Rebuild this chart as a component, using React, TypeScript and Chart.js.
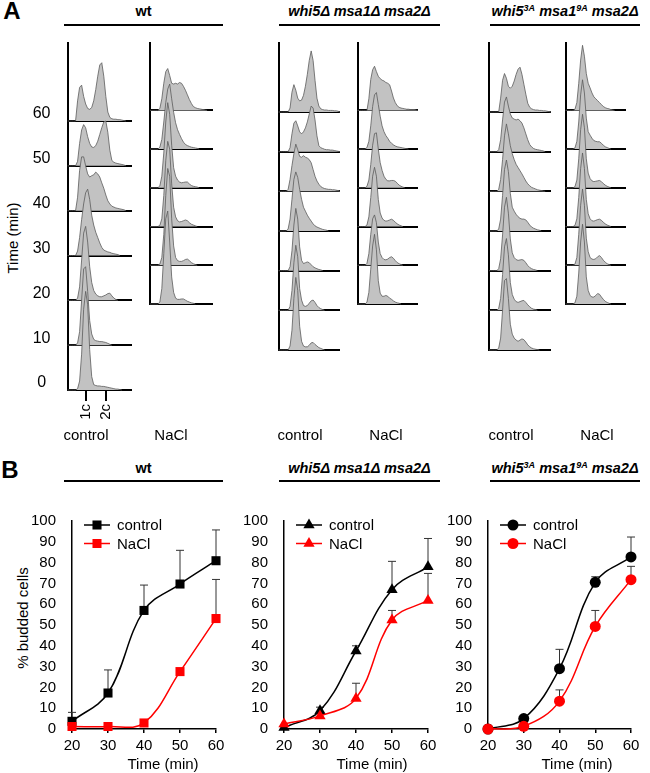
import React, { useEffect, useRef } from 'react';
import { Chart, registerables } from 'chart.js';

Chart.register(...registerables);

const FONT = "'Liberation Sans', Arial, Helvetica, sans-serif";
Chart.defaults.font.family = FONT;
Chart.defaults.color = '#000';

// ---------- Panel A: DNA content histograms (heights in row units, channel 0..32) ----------
const TIME_LABELS = ['0', '10', '20', '30', '40', '50', '60'];
const DNA_TICK_LABELS = ['1c', '2c'];
const DNA_TICK_CHANNELS = [9.25, 18.95];

const WT_CONTROL_0 = [0,0,0,0,0,0.03,0.2,0.8,1.8,2.2,1.9,0.9,0.3,0.12,0.1,0.09,0.09,0.08,0.08,0.07,0.06,0.05,0.04,0.03,0.02,0.02,0.01,0];
const WT_CONTROL_10 = [0,0,0,0,0,0.05,0.3,1.0,1.7,1.75,1.2,0.55,0.25,0.13,0.1,0.09,0.08,0.08,0.07,0.06,0.04,0.02,0];
const WT_CONTROL_20 = [0,0,0,0,0,0.05,0.3,0.9,1.5,1.65,1.3,0.75,0.4,0.22,0.14,0.1,0.08,0.08,0.1,0.12,0.15,0.16,0.1,0.05,0.02,0];
const WT_CONTROL_30 = [0,0,0,0,0,0.1,0.4,0.8,1.15,1.4,1.48,1.25,0.9,0.68,0.52,0.4,0.28,0.18,0.12,0.1,0.08,0.07,0.05,0.04,0.03,0.02,0];
const WT_CONTROL_40 = [0,0,0,0,0,0.3,0.9,1.2,1.2,1.0,0.82,0.75,0.78,0.8,0.86,0.82,0.75,0.62,0.5,0.35,0.22,0.15,0.1,0.08,0.06,0.05,0.04,0.03,0.02,0];
const WT_CONTROL_50 = [0,0,0,0,0,0.1,0.5,0.8,0.92,0.85,0.65,0.5,0.42,0.41,0.45,0.55,0.7,0.85,0.98,1.0,0.75,0.35,0.12,0.08,0.06,0.05,0.04,0.03,0.02,0];
const WT_CONTROL_60 = [0,0,0,0,0,0.45,0.75,0.8,0.55,0.38,0.28,0.26,0.3,0.45,0.7,1.0,1.25,1.3,1.0,0.55,0.2,0.08,0.05,0.04,0.04,0.03,0.03,0.02,0.01,0];

const WT_NACL_10 = [0,0,0,0,0,0.05,0.4,1.3,2.2,2.4,1.6,0.7,0.3,0.15,0.12,0.12,0.13,0.13,0.1,0.07,0.05,0.03,0.02,0];
const WT_NACL_20 = [0,0,0,0,0,0.03,0.2,0.8,1.8,2.5,2.3,1.2,0.5,0.2,0.12,0.1,0.1,0.12,0.15,0.16,0.12,0.07,0.04,0.02,0];
const WT_NACL_30 = [0,0,0,0,0,0.03,0.2,0.8,1.7,2.2,2.0,1.1,0.5,0.25,0.15,0.12,0.13,0.15,0.17,0.15,0.1,0.06,0.04,0.02,0];
const WT_NACL_40 = [0,0,0,0,0,0.05,0.3,0.9,1.7,2.2,1.9,1.1,0.52,0.3,0.2,0.15,0.13,0.14,0.15,0.15,0.1,0.06,0.04,0.03,0.02,0];
const WT_NACL_50 = [0,0,0,0,0,0.05,0.25,0.7,1.2,1.55,1.68,1.3,0.95,0.68,0.5,0.38,0.27,0.18,0.12,0.09,0.07,0.05,0.04,0.03,0.02,0];
const WT_NACL_60 = [0,0,0,0,0,0.05,0.3,0.7,1.0,1.08,0.9,0.7,0.68,0.7,0.68,0.72,0.7,0.62,0.52,0.4,0.28,0.18,0.1,0.07,0.05,0.04,0.03,0.02,0.01,0];

const TRIPLE_CONTROL_0 = [0,0,0,0,0,0,0.1,0.5,1.3,1.83,1.5,0.6,0.22,0.1,0.08,0.08,0.12,0.18,0.19,0.14,0.1,0.06,0.04,0.02,0];
const TRIPLE_CONTROL_10 = [0,0,0,0,0,0,0.1,0.5,1.2,1.64,1.35,0.55,0.26,0.12,0.1,0.12,0.18,0.24,0.26,0.2,0.12,0.07,0.04,0.02,0];
const TRIPLE_CONTROL_20 = [0,0,0,0,0,0,0.1,0.5,1.15,1.57,1.3,0.6,0.26,0.18,0.2,0.22,0.2,0.15,0.1,0.07,0.05,0.03,0.02,0];
const TRIPLE_CONTROL_30 = [0,0,0,0,0,0.05,0.3,0.8,1.3,1.49,1.35,1.05,0.8,0.6,0.5,0.4,0.32,0.25,0.18,0.13,0.1,0.08,0.06,0.04,0.03,0.02,0];
const TRIPLE_CONTROL_40 = [0,0,0,0,0,0.05,0.3,0.65,0.95,1.19,1.05,0.88,0.86,0.9,0.86,0.84,0.8,0.72,0.55,0.38,0.26,0.18,0.12,0.09,0.07,0.06,0.05,0.05,0.04,0.04,0.03,0.02,0];
const TRIPLE_CONTROL_50 = [0,0,0,0,0,0,0.1,0.45,0.72,0.78,0.65,0.5,0.45,0.5,0.6,0.75,0.95,1.15,1.1,0.8,0.4,0.15,0.1,0.08,0.06,0.05,0.05,0.04,0.04,0.03,0.02,0.01,0];
const TRIPLE_CONTROL_60 = [0,0,0,0,0,0,0.1,0.5,0.69,0.55,0.35,0.28,0.3,0.42,0.65,0.95,1.3,1.54,1.3,0.8,0.35,0.15,0.08,0.06,0.05,0.05,0.04,0.04,0.04,0.03,0.03,0.02,0];

const TRIPLE_NACL_10 = [0,0,0,0,0,0.05,0.3,0.9,1.5,1.8,1.4,0.6,0.28,0.2,0.2,0.22,0.2,0.15,0.12,0.08,0.05,0.03,0.02,0];
const TRIPLE_NACL_20 = [0,0,0,0,0,0.05,0.3,0.8,1.2,1.3,1.1,0.6,0.3,0.2,0.15,0.14,0.16,0.2,0.22,0.18,0.12,0.07,0.04,0.02,0];
const TRIPLE_NACL_30 = [0,0,0,0,0,0.04,0.25,0.75,1.3,1.53,1.3,0.7,0.35,0.22,0.16,0.14,0.15,0.17,0.19,0.16,0.11,0.07,0.04,0.02,0];
const TRIPLE_NACL_40 = [0,0,0,0,0,0.04,0.2,0.6,1.1,1.4,1.42,1.0,0.65,0.45,0.3,0.22,0.18,0.18,0.19,0.19,0.17,0.12,0.07,0.04,0.02,0];
const TRIPLE_NACL_50 = [0,0,0,0,0,0.04,0.2,0.6,1.1,1.4,1.46,1.15,0.85,0.6,0.45,0.35,0.28,0.2,0.15,0.11,0.08,0.06,0.05,0.04,0.03,0.02,0.01,0];
const TRIPLE_NACL_60 = [0,0,0,0,0,0,0.3,0.8,1.05,1.14,1.0,0.88,0.82,0.78,0.76,0.72,0.7,0.66,0.5,0.32,0.2,0.12,0.08,0.06,0.05,0.04,0.03,0.03,0.02,0.02,0.02,0.01,0];

const PHOSPHO_CONTROL_0 = [0,0,0,0,0,0.05,0.3,1.0,1.75,1.8,1.3,0.65,0.4,0.3,0.25,0.22,0.25,0.28,0.26,0.2,0.13,0.08,0.05,0.03,0.02,0.01,0];
const PHOSPHO_CONTROL_10 = [0,0,0,0,0,0.05,0.3,0.9,1.6,1.81,1.4,0.7,0.4,0.28,0.22,0.2,0.22,0.24,0.25,0.2,0.14,0.09,0.05,0.03,0.02,0];
const PHOSPHO_CONTROL_20 = [0,0,0,0,0,0.05,0.3,0.9,1.6,1.85,1.45,0.8,0.45,0.33,0.28,0.26,0.27,0.28,0.26,0.2,0.13,0.08,0.05,0.03,0.02,0];
const PHOSPHO_CONTROL_30 = [0,0,0,0,0,0.05,0.3,0.9,1.55,1.79,1.5,0.95,0.6,0.5,0.42,0.36,0.32,0.3,0.3,0.28,0.22,0.15,0.1,0.07,0.05,0.03,0.02,0];
const PHOSPHO_CONTROL_40 = [0,0,0,0,0,0.05,0.3,0.8,1.4,1.7,1.45,1.15,0.95,0.8,0.68,0.6,0.52,0.44,0.35,0.26,0.19,0.14,0.1,0.08,0.06,0.04,0.03,0.02,0.01,0];
const PHOSPHO_CONTROL_50 = [0,0,0,0,0,0.05,0.3,0.8,1.25,1.38,1.15,0.95,0.85,0.82,0.8,0.82,0.78,0.72,0.6,0.45,0.3,0.18,0.12,0.08,0.06,0.05,0.04,0.03,0.02,0];
const PHOSPHO_CONTROL_60 = [0,0,0,0,0,0,0.35,0.8,0.97,0.85,0.65,0.6,0.65,0.78,0.95,1.08,1.13,0.95,0.7,0.45,0.22,0.12,0.08,0.06,0.05,0.05,0.04,0.04,0.03,0.03,0.02,0.01,0];

const PHOSPHO_NACL_10 = [0,0,0,0,0,0.03,0.2,0.8,1.6,2.06,1.6,0.7,0.35,0.22,0.18,0.18,0.22,0.27,0.25,0.18,0.12,0.07,0.04,0.02,0];
const PHOSPHO_NACL_20 = [0,0,0,0,0,0.03,0.2,0.8,1.55,1.97,1.55,0.7,0.35,0.2,0.16,0.15,0.17,0.22,0.25,0.2,0.13,0.08,0.04,0.02,0];
const PHOSPHO_NACL_30 = [0,0,0,0,0,0.03,0.2,0.75,1.5,1.9,1.5,0.7,0.33,0.2,0.15,0.14,0.16,0.18,0.19,0.16,0.11,0.07,0.04,0.02,0];
const PHOSPHO_NACL_40 = [0,0,0,0,0,0.03,0.2,0.75,1.5,1.9,1.55,0.75,0.38,0.24,0.18,0.16,0.17,0.18,0.19,0.16,0.11,0.07,0.04,0.02,0];
const PHOSPHO_NACL_50 = [0,0,0,0,0,0.03,0.2,0.7,1.4,1.79,1.45,0.8,0.45,0.36,0.28,0.22,0.2,0.19,0.19,0.15,0.1,0.06,0.04,0.02,0];
const PHOSPHO_NACL_60 = [0,0,0,0,0,0.03,0.2,0.7,1.3,1.68,1.4,0.95,0.7,0.58,0.45,0.35,0.3,0.25,0.2,0.15,0.1,0.07,0.05,0.04,0.02,0.01,0];

// ---------- Panel B: % budded cells ----------
const TIMES = [20, 30, 40, 50, 60];
const WT_CONTROL_BUDDED = [3.7, 17.3, 57, 69.7, 80.9];
const WT_CONTROL_SD = [4.3, 11.1, 12.2, 16.2, 14.8];
const WT_NACL_BUDDED = [1.2, 1.2, 2.9, 27.6, 53.1];
const WT_NACL_SD = [0, 0, 0, 0, 18.8];
const TRIPLE_CONTROL_BUDDED = [0.7, 8.8, 37.5, 67, 78];
const TRIPLE_CONTROL_SD = [0, 1.7, 2.5, 13.6, 13.6];
const TRIPLE_NACL_BUDDED = [2.4, 6.3, 14.7, 52.4, 61.8];
const TRIPLE_NACL_SD = [0, 0, 7.3, 4.6, 13];
const PHOSPHO_CONTROL_BUDDED = [0, 5, 29, 70.5, 82.7];
const PHOSPHO_CONTROL_SD = [0, 0, 9.3, 2.7, 9.6];
const PHOSPHO_NACL_BUDDED = [0, 1.3, 13.4, 49.3, 71.8];
const PHOSPHO_NACL_SD = [0, 0, 5.4, 7.7, 6.4];
const SERIES_LABELS = ['control', 'NaCl'];
const Y_TICK_STEP = 10;

// ---------- helpers ----------
const HIST_FILL = '#c2c2c2';
const HIST_LINE = '#5c5c5c';
const A_TOP = 30;
const A_HEIGHT = 400;
const A_CHART_TOP = 43;
const ROW_MAX = 7.74;
const FS = 15;

type HistProps = {
  rows: number[][];
  firstRow: number;
  canvasLeft: number;
  chartLeft: number;
  chartRight: number;
  chartBottom: number;
  showTime?: boolean;
  showDna?: boolean;
};

function zeroPad(s: any) {
  s.paddingTop = 0;
  s.paddingBottom = 0;
  s.paddingLeft = 0;
  s.paddingRight = 0;
}

function HistColumn({ rows, firstRow, canvasLeft, chartLeft, chartRight, chartBottom, showTime, showDna }: HistProps) {
  const ref = useRef<HTMLCanvasElement>(null);
  const width = Math.ceil(chartRight + 6 - canvasLeft);
  const yWidth = showTime ? chartLeft - canvasLeft : 0;
  const padLeft = showTime ? 0 : chartLeft - canvasLeft;
  const padRight = width - (chartRight - canvasLeft);
  const xHeight = 40;
  const padBottom = showDna ? A_TOP + A_HEIGHT - chartBottom - xHeight : A_TOP + A_HEIGHT - chartBottom;
  useEffect(() => {
    const baseValues = rows.map((_, i) => firstRow + i);
    const chart = new Chart(ref.current as HTMLCanvasElement, {
      type: 'line',
      data: {
        datasets: rows.map((arr, i) => ({
          data: arr.map((h, ch) => ({ x: ch, y: firstRow + i + h })),
          fill: { value: firstRow + i },
          backgroundColor: HIST_FILL,
          borderColor: HIST_LINE,
          borderWidth: 0.8,
          pointRadius: 0,
          tension: 0,
          clip: false,
        })) as any,
      },
      options: {
        responsive: false,
        animation: false,
        events: [],
        layout: {
          autoPadding: false,
          padding: { left: padLeft, top: A_CHART_TOP - A_TOP, right: padRight, bottom: padBottom },
        },
        plugins: { legend: { display: false }, tooltip: { enabled: false } },
        scales: {
          x: {
            type: 'linear',
            min: 0,
            max: 32,
            display: !!showDna,
            border: { display: false },
            grid: { drawOnChartArea: false, drawTicks: true, tickLength: 11, color: '#000', lineWidth: 2 },
            ticks: {
              autoSkip: false,
              minRotation: 90,
              maxRotation: 90,
              padding: 3,
              font: { size: FS },
              callback: (_v: any, idx: number) => DNA_TICK_LABELS[idx],
            },
            afterBuildTicks: (s: any) => { s.ticks = DNA_TICK_CHANNELS.map((v) => ({ value: v })); },
            afterFit: (s: any) => { s.height = xHeight; zeroPad(s); },
          },
          y: {
            type: 'linear',
            min: firstRow,
            max: ROW_MAX,
            border: { display: true, color: '#000', width: 2 },
            grid: { color: '#000', lineWidth: 2, drawTicks: false },
            ticks: {
              display: !!showTime,
              autoSkip: false,
              crossAlign: 'center',
              padding: 17,
              labelOffset: -7,
              font: { size: 16 },
              callback: (v: any) => TIME_LABELS[Math.round(v)],
            },
            afterBuildTicks: (s: any) => { s.ticks = baseValues.map((v) => ({ value: v })); },
            afterFit: (s: any) => { s.width = yWidth; zeroPad(s); },
          },
        },
      } as any,
    });
    return () => chart.destroy();
  }, []);
  return (
    <canvas
      ref={ref}
      width={width}
      height={A_HEIGHT}
      style={{ position: 'absolute', left: canvasLeft, top: A_TOP, width, height: A_HEIGHT }}
    />
  );
}

function drawMarker(ctx: CanvasRenderingContext2D, style: string, x: number, y: number, r: number, color: string) {
  ctx.save();
  ctx.fillStyle = color;
  ctx.beginPath();
  if (style === 'rect') {
    const s = r * Math.SQRT1_2;
    ctx.rect(x - s, y - s, 2 * s, 2 * s);
  } else if (style === 'triangle') {
    let a = 0;
    ctx.moveTo(x + Math.sin(a) * r, y - Math.cos(a) * r);
    a += (2 * Math.PI) / 3;
    ctx.lineTo(x + Math.sin(a) * r, y - Math.cos(a) * r);
    a += (2 * Math.PI) / 3;
    ctx.lineTo(x + Math.sin(a) * r, y - Math.cos(a) * r);
    ctx.closePath();
  } else {
    ctx.arc(x, y, r, 0, Math.PI * 2);
  }
  ctx.fill();
  ctx.restore();
}

const errorBarPlugin = {
  id: 'errorBars',
  beforeDatasetsDraw(chart: any) {
    const { ctx } = chart;
    const yScale = chart.scales.y;
    chart.data.datasets.forEach((ds: any, i: number) => {
      const meta = chart.getDatasetMeta(i);
      meta.data.forEach((pt: any, j: number) => {
        const e = ds.errUp[j];
        if (!e) return;
        const top = yScale.getPixelForValue(ds.data[j].y + e);
        ctx.save();
        ctx.strokeStyle = '#333';
        ctx.lineWidth = 1;
        ctx.beginPath();
        ctx.moveTo(pt.x, pt.y);
        ctx.lineTo(pt.x, top);
        ctx.moveTo(pt.x - 4, top);
        ctx.lineTo(pt.x + 4, top);
        ctx.stroke();
        ctx.restore();
      });
    });
  },
};

const inlineLegendPlugin = {
  id: 'inlineLegend',
  afterDraw(chart: any) {
    const { ctx, chartArea } = chart;
    chart.data.datasets.forEach((ds: any, i: number) => {
      const y = chartArea.top + 4 + i * 18.5;
      const x0 = chartArea.left + 12;
      ctx.save();
      ctx.strokeStyle = ds.borderColor;
      ctx.lineWidth = 1.5;
      ctx.beginPath();
      ctx.moveTo(x0, y);
      ctx.lineTo(x0 + 26, y);
      ctx.stroke();
      drawMarker(ctx, ds.pointStyle, x0 + 13, y, ds.pointRadius, ds.backgroundColor);
      ctx.fillStyle = '#000';
      ctx.font = `${FS}px ${FONT}`;
      ctx.textBaseline = 'middle';
      ctx.textAlign = 'left';
      ctx.fillText(ds.label, x0 + 33, y + 1);
      ctx.restore();
    });
  },
};

type BudProps = {
  canvasLeft: number;
  chartLeft: number;
  chartRight: number;
  control: number[];
  controlSd: number[];
  nacl: number[];
  naclSd: number[];
  pointStyle: string;
  radius: number;
};

const B_TOP = 495;
const B_HEIGHT = 278;
const B_CHART_TOP = 521;
const B_CHART_BOTTOM = 729;

function BuddedChart({ canvasLeft, chartLeft, chartRight, control, controlSd, nacl, naclSd, pointStyle, radius }: BudProps) {
  const ref = useRef<HTMLCanvasElement>(null);
  const width = Math.ceil(chartRight + 16 - canvasLeft);
  useEffect(() => {
    const mk = (label: string, vals: number[], sd: number[], color: string, order: number) => ({
      label,
      data: TIMES.map((t, i) => ({ x: t, y: vals[i] })),
      errUp: sd,
      borderColor: color,
      backgroundColor: color,
      pointBackgroundColor: color,
      pointBorderColor: color,
      pointBorderWidth: 0,
      pointStyle,
      pointRadius: radius,
      borderWidth: 1.5,
      tension: 0.38,
      clip: false,
      order,
    });
    const chart = new Chart(ref.current as HTMLCanvasElement, {
      type: 'line',
      data: {
        datasets: [
          mk(SERIES_LABELS[0], control, controlSd, '#000000', 2),
          mk(SERIES_LABELS[1], nacl, naclSd, '#ff0000', 1),
        ] as any,
      },
      options: {
        responsive: false,
        animation: false,
        events: [],
        elements: { line: { capBezierPoints: false } },
        layout: {
          autoPadding: false,
          padding: {
            left: 0,
            top: B_CHART_TOP - B_TOP,
            right: width - (chartRight - canvasLeft),
            bottom: 0,
          },
        },
        plugins: { legend: { display: false }, tooltip: { enabled: false } },
        scales: {
          x: {
            type: 'linear',
            min: TIMES[0],
            max: TIMES[TIMES.length - 1],
            border: { display: true, color: '#000', width: 1.5 },
            grid: { drawOnChartArea: false, drawTicks: true, tickLength: 4, color: '#000', lineWidth: 1.5 },
            ticks: { stepSize: 10, padding: 4, font: { size: FS }, maxRotation: 0, autoSkip: false },
            afterFit: (s: any) => { s.height = B_TOP + B_HEIGHT - B_CHART_BOTTOM; zeroPad(s); },
          },
          y: {
            type: 'linear',
            min: 0,
            max: 100,
            border: { display: true, color: '#000', width: 1.5 },
            grid: { display: false },
            ticks: { stepSize: Y_TICK_STEP, padding: 8, font: { size: FS }, autoSkip: false },
            afterFit: (s: any) => { s.width = chartLeft - canvasLeft; zeroPad(s); },
          },
        },
      } as any,
      plugins: [errorBarPlugin, inlineLegendPlugin],
    });
    return () => chart.destroy();
  }, []);
  return (
    <canvas
      ref={ref}
      width={width}
      height={B_HEIGHT}
      style={{ position: 'absolute', left: canvasLeft, top: B_TOP, width, height: B_HEIGHT }}
    />
  );
}

function Txt({ x, y, children, size = FS, bold, italic, rotate }: any) {
  return (
    <div
      style={{
        position: 'absolute',
        left: x,
        top: y,
        transform: `translate(-50%, -50%)${rotate ? ' rotate(-90deg)' : ''}`,
        fontFamily: FONT,
        fontSize: size,
        fontWeight: bold ? 'bold' : 'normal',
        fontStyle: italic ? 'italic' : 'normal',
        lineHeight: 1,
        whiteSpace: 'nowrap',
        color: '#000',
      }}
    >
      {children}
    </div>
  );
}

function HLine({ x1, x2, y }: { x1: number; x2: number; y: number }) {
  return <div style={{ position: 'absolute', left: x1, top: y - 1, width: x2 - x1, height: 1.5, background: '#000' }} />;
}

const sup = (t: string) => <span style={{ fontSize: 9, verticalAlign: '5px' }}>{t}</span>;

const Header1 = () => <>wt</>;
const Header2 = () => <>whi5Δ msa1Δ msa2Δ</>;
const Header3 = () => (
  <>
    whi5{sup('3A')} msa1{sup('9A')} msa2Δ
  </>
);

export default function App() {
  const headerXs = [
    [64, 223],
    [279, 440],
    [490, 640],
  ];
  const headers = [<Header1 key="1" />, <Header2 key="2" />, <Header3 key="3" />];
  return (
    <div style={{ position: 'absolute', left: 0, top: 0, width: 650, height: 773, background: '#fff', overflow: 'hidden' }}>
      {/* Panel letters */}
      <Txt x={12} y={11} size={24} bold>A</Txt>
      <Txt x={10} y={470} size={24} bold>B</Txt>

      {/* Headers panel A and B */}
      {headerXs.map(([a, b], i) => (
        <React.Fragment key={'h' + i}>
          <Txt x={(a + b) / 2} y={11} size={14.5} bold italic={i > 0}>{headers[i]}</Txt>
          <HLine x1={a} x2={b} y={25} />
          <Txt x={(a + b) / 2} y={468} size={14.5} bold italic={i > 0}>{headers[i]}</Txt>
          <HLine x1={a} x2={b} y={481} />
        </React.Fragment>
      ))}

      {/* Panel A */}
      <Txt x={12} y={238} rotate>Time (min)</Txt>
      <HistColumn
        rows={[WT_CONTROL_0, WT_CONTROL_10, WT_CONTROL_20, WT_CONTROL_30, WT_CONTROL_40, WT_CONTROL_50, WT_CONTROL_60]}
        firstRow={0} canvasLeft={0} chartLeft={67.5} chartRight={132} chartBottom={390} showTime showDna
      />
      <HistColumn
        rows={[WT_NACL_10, WT_NACL_20, WT_NACL_30, WT_NACL_40, WT_NACL_50, WT_NACL_60]}
        firstRow={1} canvasLeft={145} chartLeft={150} chartRight={213} chartBottom={344}
      />
      <HistColumn
        rows={[TRIPLE_CONTROL_0, TRIPLE_CONTROL_10, TRIPLE_CONTROL_20, TRIPLE_CONTROL_30, TRIPLE_CONTROL_40, TRIPLE_CONTROL_50, TRIPLE_CONTROL_60]}
        firstRow={0} canvasLeft={273} chartLeft={278.5} chartRight={340} chartBottom={390}
      />
      <HistColumn
        rows={[TRIPLE_NACL_10, TRIPLE_NACL_20, TRIPLE_NACL_30, TRIPLE_NACL_40, TRIPLE_NACL_50, TRIPLE_NACL_60]}
        firstRow={1} canvasLeft={352} chartLeft={357.5} chartRight={418} chartBottom={344}
      />
      <HistColumn
        rows={[PHOSPHO_CONTROL_0, PHOSPHO_CONTROL_10, PHOSPHO_CONTROL_20, PHOSPHO_CONTROL_30, PHOSPHO_CONTROL_40, PHOSPHO_CONTROL_50, PHOSPHO_CONTROL_60]}
        firstRow={0} canvasLeft={484} chartLeft={489} chartRight={551} chartBottom={390}
      />
      <HistColumn
        rows={[PHOSPHO_NACL_10, PHOSPHO_NACL_20, PHOSPHO_NACL_30, PHOSPHO_NACL_40, PHOSPHO_NACL_50, PHOSPHO_NACL_60]}
        firstRow={1} canvasLeft={560} chartLeft={565.5} chartRight={626} chartBottom={344}
      />
      {[86, 300, 511].map((x) => <Txt key={'c' + x} x={x} y={434}>control</Txt>)}
      {[171, 386, 597].map((x) => <Txt key={'n' + x} x={x} y={434}>NaCl</Txt>)}

      {/* Panel B */}
      <Txt x={22} y={618} rotate>% budded cells</Txt>
      <BuddedChart canvasLeft={0} chartLeft={72} chartRight={216}
        control={WT_CONTROL_BUDDED} controlSd={WT_CONTROL_SD} nacl={WT_NACL_BUDDED} naclSd={WT_NACL_SD}
        pointStyle="rect" radius={6.4} />
      <BuddedChart canvasLeft={230} chartLeft={284} chartRight={428}
        control={TRIPLE_CONTROL_BUDDED} controlSd={TRIPLE_CONTROL_SD} nacl={TRIPLE_NACL_BUDDED} naclSd={TRIPLE_NACL_SD}
        pointStyle="triangle" radius={6.5} />
      <BuddedChart canvasLeft={440} chartLeft={488} chartRight={631}
        control={PHOSPHO_CONTROL_BUDDED} controlSd={PHOSPHO_CONTROL_SD} nacl={PHOSPHO_NACL_BUDDED} naclSd={PHOSPHO_NACL_SD}
        pointStyle="circle" radius={5.5} />
      {[163, 372, 577].map((x) => <Txt key={'t' + x} x={x} y={763}>Time (min)</Txt>)}
    </div>
  );
}
